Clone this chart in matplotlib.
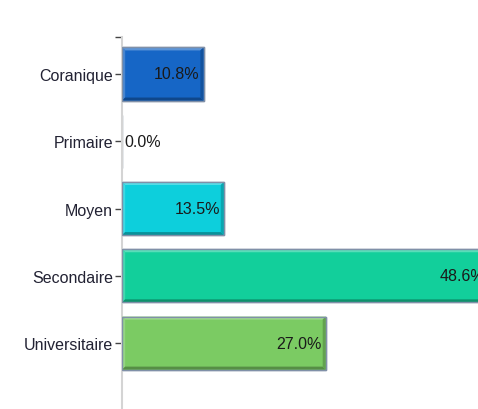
import matplotlib.pyplot as plt
from matplotlib.patches import Polygon
from matplotlib.colors import to_rgb
import numpy as np

plt.rcParams['font.family'] = ['Liberation Sans', 'DejaVu Sans']

categories = ['Coranique', 'Primaire', 'Moyen', 'Secondaire', 'Universitaire']
values = [10.8, 0.0, 13.5, 48.6, 27.0]
colors = ['#1666c6', '#1a8fd8', '#0dcfdc', '#12cf9b', '#7bcb63']


def shade(c, f):
    r = np.array(to_rgb(c))
    if f > 0:
        return tuple(r + (1 - r) * f)
    return tuple(r * (1 + f))


def main():
    fig = plt.figure(figsize=(4.78, 4.10), dpi=100)
    ax = fig.add_axes([122 / 478, 0, 1 - 122 / 478, 1 - 38 / 410])
    pos = np.arange(len(categories))
    h = 0.79
    bars = ax.barh(pos, values, height=h, color=colors,
                   edgecolor='#8090a8', linewidth=1, zorder=2)

    bx = 0.42   # bevel width in x data units
    by = 0.045  # bevel height in y data units
    for b, c in zip(bars, colors):
        w = b.get_width()
        if w <= 0:
            continue
        x0, y0 = b.get_x(), b.get_y()
        y1 = y0 + b.get_height()
        # y axis inverted: y0 is top visually
        top = Polygon([(x0, y0), (x0 + w, y0), (x0 + w - bx, y0 + by), (x0 + bx, y0 + by)],
                      closed=True, color=shade(c, 0.3), lw=0, zorder=3)
        left = Polygon([(x0, y0), (x0 + bx, y0 + by), (x0 + bx, y1 - by), (x0, y1)],
                       closed=True, color=shade(c, 0.2), lw=0, zorder=3)
        bottom = Polygon([(x0, y1), (x0 + bx, y1 - by), (x0 + w - bx, y1 - by), (x0 + w, y1)],
                         closed=True, color=shade(c, -0.3), lw=0, zorder=3)
        right = Polygon([(x0 + w, y0), (x0 + w, y1), (x0 + w - bx, y1 - by), (x0 + w - bx, y0 + by)],
                        closed=True, color=shade(c, -0.2), lw=0, zorder=3)
        for p in (top, left, bottom, right):
            ax.add_patch(p)
        ax.add_patch(plt.Rectangle((x0, y0), w, b.get_height(), fill=False,
                                   edgecolor='#8090a8', lw=1, zorder=4))

    for p, v in zip(pos, values):
        if v > 0:
            ax.text(v - 0.5, p, f'{v:.1f}%', ha='right', va='center',
                    fontsize=11.5, color='#1a1a1a', zorder=5, clip_on=False)
        else:
            ax.text(0.35, p, f'{v:.1f}%', ha='left', va='center',
                    fontsize=11.5, color='#1a1a1a', zorder=5)

    ax.set_xlim(0, 47.15)
    ax.set_ylim(4.98, -0.55)
    ax.set_yticks(list(pos) + [-0.55], labels=categories + [''])
    ax.set_xticks([])
    ax.tick_params(axis='y', length=5, width=1, color='#444444',
                   labelsize=11.5, pad=1.5, labelcolor='#222233')
    for s in ('top', 'right', 'bottom'):
        ax.spines[s].set_visible(False)
    ax.spines['left'].set_color('#d4d4d4')
    ax.spines['left'].set_linewidth(1.5)
    plt.savefig('out.png', dpi=100)


if __name__ == '__main__':
    main()
